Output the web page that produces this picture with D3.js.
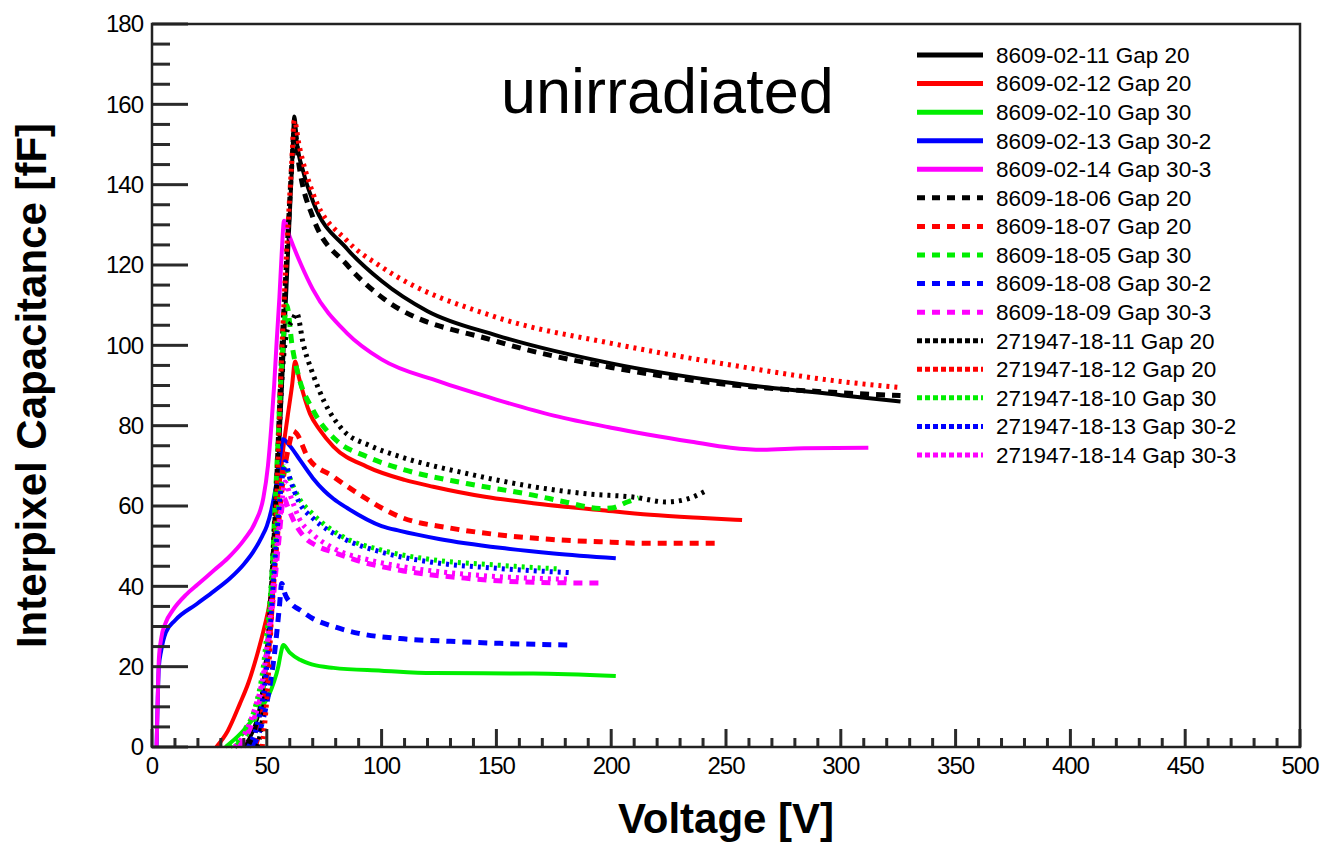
<!DOCTYPE html>
<html>
<head>
<meta charset="utf-8">
<script src="https://cdn.jsdelivr.net/npm/d3@7"></script>
<style>
  html, body { margin: 0; padding: 0; background: #fff; }
  svg { display: block; font-family: "Liberation Sans", Arial, Helvetica, sans-serif; }
</style>
</head>
<body>
<svg id="chart" width="1325" height="845"></svg>
<script>
// Interpixel capacitance vs bias voltage, unirradiated sensors.
// Each series: [voltage (V), capacitance (fF)] pairs.
const s_8609_02_11 = [[40,0],[44,4],[47,10],[49,18],[51,30],[53,48],[55,70],[57,95],[59,120],[61,145],[62,157],[63,151],[66,143],[70,136],[85,124],[100,116],[120,108.5],[150,102.5],[200,95.5],[250,90.8],[300,87.6],[326,86]];
const s_8609_02_12 = [[28,0],[33,4],[38.3,10.8],[42,16],[45.6,22.6],[49,30],[51.4,36.7],[53,46],[54.3,58.2],[55.7,66],[57.2,74.4],[59,82],[61,90],[62.3,96],[64,92],[68.8,83],[73,79],[79,74.8],[93.5,69.8],[110,66.5],[122.5,64.8],[145,62.3],[166,60.7],[195,59],[217,57.8],[240,57],[257,56.5]];
const s_8609_02_10 = [[32,0],[38,3],[44,7],[48,10],[51,13],[53,16],[55,20],[56,23],[57.2,25.4],[60,23.5],[64.5,21.7],[70,20.5],[79,19.7],[100,19],[122.5,18.4],[166,18.3],[202,17.7]];
const s_8609_02_13 = [[2,0],[2.5,12],[3,20],[4,24],[6,28.5],[10,31.5],[19.5,35.6],[27,38.8],[34,42],[40,45.5],[44,48.5],[48,52.5],[50,55],[52,59],[54,65],[55.7,72],[57,76.6],[60,75],[64.5,71.4],[70,67],[75,63.8],[79,61.8],[85,59.5],[100,55],[108,53.8],[125,51.8],[151.6,49.6],[175,48.2],[202,47]];
const s_8609_02_14 = [[2,0],[2.5,12],[3,22],[4,27],[6,31],[9,34],[15,38],[20,40.5],[27,44],[33,47],[40,51.5],[45,56],[48.5,62],[50.5,70],[52,80],[53.2,90],[54.3,101],[55.5,112],[56.5,123],[57.5,131],[60,127],[65,120],[70,114],[85,103],[100,96.5],[125,91],[150,86.5],[175,82.5],[200,79.5],[235,76],[252,74.5],[266,74],[284,74.4],[312,74.5]];
const s_8609_18_06 = [[42,0],[46,6],[48.5,14],[51,30],[54,62],[56.5,98],[58.7,122],[61,146],[62,154],[64,145],[70,132],[85,120],[100,112],[150,101],[200,94.5],[250,90.3],[300,88.2],[326,87.5]];
const s_8609_18_07 = [[45,0],[48,8],[51,25],[54,48],[57,66],[60,76],[61.5,78.7],[63,78],[68,72],[79,67.3],[90,63],[108,57.3],[130,54.5],[151.6,52.8],[173,51.7],[200,51],[215,50.7],[247,50.7]];
const s_8609_18_05 = [[36,0],[42,4],[46,9],[49,17],[51.5,35],[54,65],[56.5,95],[58.7,110],[61,100],[64,92],[70,84],[80,76.5],[93.5,72.3],[110,69],[137,65.6],[166,62.7],[180,61],[195,59.4],[200,59.5],[207,61],[212,62]];
const s_8609_18_08 = [[44,0],[48,6],[51,14],[53.5,24],[55.5,35],[56.5,40.7],[58,38],[61,35.5],[64.5,34.1],[70,32],[79,30],[90,28.3],[108,27],[130,26.3],[151.6,25.8],[182,25.4]];
const s_8609_18_09 = [[38,0],[43,5],[47,12],[50,22],[52.5,35],[55,50],[57.5,62],[59,60],[62,56],[66,52.5],[72,50],[79,48.5],[92,46],[108,44],[137,42],[166,41],[197,40.8]];
const s_271947_18_11 = [[46,0],[49,12],[51.5,35],[54.5,68],[57,95],[59,104],[61,106],[63,108],[66,100],[70,93],[75,86],[83,79],[95,75],[108,72.3],[137,68.1],[166,64.8],[190,63],[210,62.2],[224,61],[234,61.9],[242,64]];
const s_271947_18_12 = [[48,0],[50,12],[52,32],[54.3,62],[56.5,98],[58.7,124],[60.8,145],[62,156],[64,150],[70,138],[85,126],[100,119.5],[150,107],[200,100.5],[250,95.3],[300,91],[326,89.5]];
const s_271947_18_10 = [[34,0],[40,4],[45,10],[48.5,20],[51,34],[53.5,50],[56,64],[58,70],[60,67],[64,62],[70,58],[83,52.4],[100,49],[122.5,46.6],[150,45.3],[172,44.5],[178,44.3]];
const s_271947_18_13 = [[42,0],[46,6],[49,15],[51.5,30],[54,50],[56.5,66],[58,71],[60,67],[64,61],[70,57],[83,52],[100,48.5],[122,46],[150,44.5],[182,43.4]];
const s_271947_18_14 = [[36,0],[41,4],[45,10],[48.5,18],[51,30],[53.5,45],[56,58],[58,66],[60,63],[64,57],[70,53],[79,49.5],[95,46.5],[108,45],[137,43],[166,42],[182,41.8]];

const seriesNames = [
  "8609-02-11 Gap 20", "8609-02-12 Gap 20", "8609-02-10 Gap 30", "8609-02-13 Gap 30-2", "8609-02-14 Gap 30-3",
  "8609-18-06 Gap 20", "8609-18-07 Gap 20", "8609-18-05 Gap 30", "8609-18-08 Gap 30-2", "8609-18-09 Gap 30-3",
  "271947-18-11 Gap 20", "271947-18-12 Gap 20", "271947-18-10 Gap 30", "271947-18-13 Gap 30-2", "271947-18-14 Gap 30-3"
];
const seriesData = [
  s_8609_02_11, s_8609_02_12, s_8609_02_10, s_8609_02_13, s_8609_02_14,
  s_8609_18_06, s_8609_18_07, s_8609_18_05, s_8609_18_08, s_8609_18_09,
  s_271947_18_11, s_271947_18_12, s_271947_18_10, s_271947_18_13, s_271947_18_14
];
const palette = ["#000000", "#ff0000", "#00ee00", "#0000ff", "#ff00ff"];
const styleKinds = ["solid", "dashed", "dotted"];

const xTickLabels = [0, 50, 100, 150, 200, 250, 300, 350, 400, 450, 500];
const yTickLabels = [0, 20, 40, 60, 80, 100, 120, 140, 160, 180];

const svg = d3.select("#chart");
const plotLeft = 152, plotRight = 1300, plotTop = 24, plotBottom = 747;

const x = d3.scaleLinear().domain([0, 500]).range([plotLeft, plotRight]);
const y = d3.scaleLinear().domain([0, 180]).range([plotBottom, plotTop]);

const dashFor = { solid: null, dashed: "9,7", dotted: "3,5" };

// Curves
const line = d3.line().x(d => x(d[0])).y(d => y(d[1])).curve(d3.curveMonotoneX);
const curves = svg.append("g");
seriesData.forEach((data, i) => {
  const kind = styleKinds[Math.floor(i / 5)];
  curves.append("path")
    .datum(data)
    .attr("d", line)
    .attr("fill", "none")
    .attr("stroke", palette[i % 5])
    .attr("stroke-width", kind === "solid" ? 4 : 5)
    .attr("stroke-dasharray", dashFor[kind])
    .attr("stroke-linejoin", "round");
});

// Ticks pointing into the plot area, one rect per tick
const tickColor = "#2a2a2a";
const yMinorVals = d3.range(0, 181, 5).filter(v => v % 20 !== 0);
const xMinorVals = d3.range(0, 501, 10).filter(v => v % 50 !== 0);
const tickLayer = svg.append("g").attr("class", "tick-layer");
tickLayer.selectAll("rect.ymaj").data(yTickLabels).join("rect").attr("class", "ymaj")
  .attr("x", plotLeft).attr("y", d => y(d) - 1.5).attr("width", 36).attr("height", 3).attr("fill", tickColor);
tickLayer.selectAll("rect.ymin").data(yMinorVals).join("rect").attr("class", "ymin")
  .attr("x", plotLeft).attr("y", d => y(d) - 1.5).attr("width", 18).attr("height", 3).attr("fill", tickColor);
tickLayer.selectAll("rect.xmaj").data(xTickLabels).join("rect").attr("class", "xmaj")
  .attr("x", d => x(d) - 1.5).attr("y", plotBottom - 18).attr("width", 3).attr("height", 18).attr("fill", tickColor);
tickLayer.selectAll("rect.xmin").data(xMinorVals).join("rect").attr("class", "xmin")
  .attr("x", d => x(d) - 1.5).attr("y", plotBottom - 9).attr("width", 3).attr("height", 9).attr("fill", tickColor);

// Tick labels
svg.append("g").selectAll("text").data(yTickLabels).join("text")
  .attr("x", plotLeft - 9).attr("y", d => y(d))
  .attr("dy", "0.35em").attr("text-anchor", "end")
  .style("font-size", "24px").style("letter-spacing", "-1px")
  .text(d => d);
svg.append("g").selectAll("text").data(xTickLabels).join("text")
  .attr("x", d => x(d)).attr("y", plotBottom + 27)
  .attr("text-anchor", "middle")
  .style("font-size", "24px").style("letter-spacing", "-1px")
  .text(d => d);

// Frame
svg.append("rect")
  .attr("x", plotLeft).attr("y", plotTop)
  .attr("width", plotRight - plotLeft).attr("height", plotBottom - plotTop)
  .attr("fill", "none").attr("stroke", "#222").attr("stroke-width", 2.5);

// Axis titles
svg.append("text")
  .attr("x", (plotLeft + plotRight) / 2).attr("y", 833)
  .attr("text-anchor", "middle")
  .style("font-size", "42px").style("font-weight", "bold")
  .text("Voltage [V]");
svg.append("text")
  .attr("transform", `translate(46,${(plotTop + plotBottom) / 2}) rotate(-90)`)
  .attr("text-anchor", "middle")
  .style("font-size", "42px").style("font-weight", "bold")
  .text("Interpixel Capacitance [fF]");

// Annotation
svg.append("text")
  .attr("x", 501).attr("y", 113)
  .style("font-size", "63px")
  .text("unirradiated");

// Legend
const legend = svg.append("g");
seriesNames.forEach((name, i) => {
  const kind = styleKinds[Math.floor(i / 5)];
  const ly = 55 + i * 28.57;
  legend.append("line")
    .attr("x1", 917).attr("x2", 983).attr("y1", ly).attr("y2", ly)
    .attr("stroke", palette[i % 5])
    .attr("stroke-width", 5)
    .attr("stroke-dasharray", kind === "dashed" ? "8,7" : kind === "dotted" ? "5,3" : null);
  legend.append("text")
    .attr("x", 996).attr("y", ly)
    .attr("dy", "0.35em")
    .style("font-size", "22.5px")
    .text(name);
});
</script>
</body>
</html>
